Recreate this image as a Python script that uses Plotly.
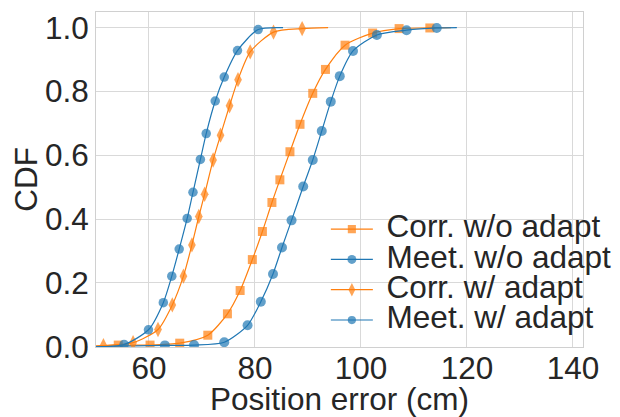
import plotly.graph_objects as go

# ---- data ----
meet_adapt_x = [55.3, 59.9, 62.7, 64.3, 65.7, 67.2, 68.3, 69.7, 70.8, 72.5, 74.2, 76.7, 80.6]
meet_adapt_y = [0.007, 0.053, 0.138, 0.221, 0.306, 0.402, 0.484, 0.587, 0.668, 0.770, 0.845, 0.928, 0.994]
meet_adapt_tail = [(48.0, 0.0), (85.3, 1.0)]

corr_adapt_x = [51.4, 57.0, 61.7, 64.4, 66.5, 68.1, 69.4, 70.5, 72.1, 73.5, 75.2, 76.8, 79.1, 83.5, 88.9]
corr_adapt_y = [0.003, 0.0125, 0.054, 0.131, 0.221, 0.319, 0.408, 0.478, 0.585, 0.663, 0.755, 0.837, 0.924, 0.986, 0.997]
corr_adapt_tail = [(48.0, 0.0), (93.8, 1.0)]

corr_noadapt_x = [54.2, 60.2, 65.8, 71.1, 74.8, 77.2, 79.5, 81.4, 83.2, 84.7, 86.6, 88.5, 90.9, 93.3, 97.0, 102.2, 107.2, 113.0]
corr_noadapt_y = [0.005, 0.005, 0.011, 0.036, 0.103, 0.176, 0.273, 0.361, 0.452, 0.523, 0.611, 0.697, 0.794, 0.869, 0.945, 0.983, 0.997, 0.999]
corr_noadapt_tail = [(48.0, 0.0), (117.0, 1.0)]

meet_noadapt_x = [63.0, 68.5, 74.2, 78.6, 81.1, 83.4, 85.1, 86.9, 89.1, 90.9, 92.6, 94.3, 96.0, 98.5, 103.0, 108.6, 114.3]
meet_noadapt_y = [0.004, 0.005, 0.014, 0.067, 0.141, 0.228, 0.311, 0.396, 0.502, 0.585, 0.676, 0.768, 0.848, 0.927, 0.977, 0.992, 0.999]
meet_noadapt_tail = [(48.0, 0.0), (118.1, 1.0)]

x_ticks = [60, 80, 100, 120, 140]
y_ticks = [0.0, 0.2, 0.4, 0.6, 0.8, 1.0]

ORANGE = "#ff7f0e"
BLUE = "#1f77b4"
TXT = "#262626"
FONT = "Liberation Sans, Arial, sans-serif"
FS = 31.5

fig = go.Figure()


def add_series(name, xs, ys, tail, color, symbol, msize):
    x = [tail[0][0]] + xs + [tail[1][0]]
    y = [tail[0][1]] + ys + [tail[1][1]]
    sizes = [0] + [msize] * len(xs) + [0]
    fig.add_trace(go.Scatter(
        x=x, y=y, mode="lines+markers",
        name=f'<span style="font-size:{FS}px">&nbsp;{name}</span>',
        line=dict(color=color, width=1.2, shape="spline", smoothing=0.7),
        marker=dict(color=color, symbol=symbol, size=sizes, line=dict(width=0)),
    ))


add_series("Corr. w/o adapt", corr_noadapt_x, corr_noadapt_y, corr_noadapt_tail, ORANGE, "square", 9)
add_series("Meet. w/o adapt", meet_noadapt_x, meet_noadapt_y, meet_noadapt_tail, BLUE, "circle", 10)
add_series("Corr. w/ adapt", corr_adapt_x, corr_adapt_y, corr_adapt_tail, ORANGE, "diamond-tall", 11)
add_series("Meet. w/ adapt", meet_adapt_x, meet_adapt_y, meet_adapt_tail, BLUE, "circle", 9.5)

axis_common = dict(
    showgrid=True, gridcolor="#d9d9d9", gridwidth=1,
    showline=True, linecolor="#d0d0d0", linewidth=1, mirror=True,
    zeroline=False, ticks="", ticklen=0, automargin=False,
    tickfont=dict(size=FS, color=TXT, family=FONT),
)

# the page body adds an 8px offset, so the figure is sized to fit the 620x417 window
fig.update_layout(
    template="none",
    width=612, height=409,
    margin=dict(l=88, r=37, t=4, b=70, autoexpand=False),
    paper_bgcolor="white", plot_bgcolor="white",
    font=dict(family=FONT, color=TXT),
    xaxis=dict(range=[50, 141.9], tickvals=x_ticks, ticktext=[str(v) for v in x_ticks],
               ticklabelstandoff=-7,
               title=dict(text="Position error (cm)", font=dict(size=FS, color=TXT), standoff=11),
               **axis_common),
    yaxis=dict(range=[-0.001, 1.049], tickvals=y_ticks, ticktext=[f"{v:.1f}" for v in y_ticks],
               title=dict(text="CDF", font=dict(size=FS, color=TXT), standoff=4),
               **axis_common),
    legend=dict(x=0.472, y=0.018, xanchor="left", yanchor="bottom",
                bgcolor="rgba(255,255,255,0)", borderwidth=0,
                font=dict(size=21, color=TXT, family=FONT),
                itemwidth=42, tracegroupgap=0),
    showlegend=True,
)

fig.write_html("out.html")
